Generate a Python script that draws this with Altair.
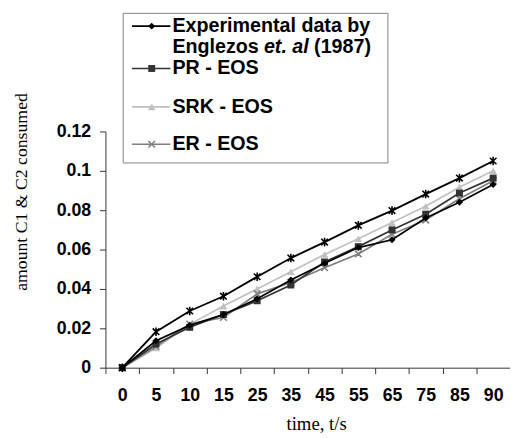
import altair as alt
import pandas as pd

# ---------------- data ----------------
times = ["0", "5", "10", "15", "25", "35", "45", "55", "65", "75", "85", "90"]
exp_vals = [0, 0.0137, 0.0215, 0.027, 0.035, 0.0445, 0.053, 0.061, 0.065, 0.076, 0.084, 0.093]
pr_vals = [0, 0.012, 0.0205, 0.027, 0.034, 0.042, 0.0537, 0.0615, 0.070, 0.078, 0.0887, 0.0963]
srk_vals = [0, 0.010, 0.022, 0.0313, 0.040, 0.0487, 0.0575, 0.0655, 0.0737, 0.082, 0.0917, 0.100]
er_vals = [0, 0.0108, 0.0222, 0.0255, 0.0375, 0.0433, 0.0508, 0.0578, 0.0678, 0.075, 0.0858, 0.095]
pt_vals = [0, 0.0183, 0.0288, 0.0363, 0.0462, 0.0557, 0.0638, 0.0723, 0.0798, 0.0882, 0.0963, 0.105]

series_names = ["Experimental", "PR - EOS", "SRK - EOS", "ER - EOS", "PT - EOS"]
series_values = [exp_vals, pr_vals, srk_vals, er_vals, pt_vals]
y_ticks = [0, 0.02, 0.04, 0.06, 0.08, 0.10, 0.12]

rows = []
for name, vals in zip(series_names, series_values):
    for t, v in zip(times, vals):
        rows.append({"time": t, "value": v, "series": name})
df = pd.DataFrame(rows)

# ---------------- styles ----------------
X_PATH = "M-1,-1L1,1M-1,1L1,-1"
AST_PATH = "M-1,-1L1,1M-1,1L1,-1M0,-1.3L0,1.3"
styles = {
    "Experimental": dict(color="#000000", shape="diamond", filled=True, size=50, sw=1.7),
    "PR - EOS": dict(color="#333333", shape="square", filled=True, size=50, sw=1.7),
    "SRK - EOS": dict(color="#c0c0c0", shape="triangle-up", filled=True, size=60, sw=1.7),
    "ER - EOS": dict(color="#808080", shape=X_PATH, filled=False, size=45, sw=1.7),
    "PT - EOS": dict(color="#000000", shape=AST_PATH, filled=False, size=45, sw=1.9),
}
draw_order = ["SRK - EOS", "ER - EOS", "PR - EOS", "Experimental", "PT - EOS"]

x_enc = alt.X(
    "time:N",
    sort=times,
    scale=alt.Scale(type="band", domain=times, paddingInner=0, paddingOuter=0),
    axis=alt.Axis(
        title="time, t/s",
        labelAngle=0,
        tickBand="extent",
        tickSize=6,
        labelPadding=13,
        titleFont="Liberation Serif",
        titleFontWeight="normal",
        titleFontSize=19,
        titleX=214,
        titleY=57,
        titleBaseline="middle",
        titleAlign="center",
    ),
)
y_enc = alt.Y(
    "value:Q",
    scale=alt.Scale(domain=[0, 0.12], nice=False, zero=True),
    axis=alt.Axis(
        values=y_ticks,
        format=".2~f",
        title="amount C1 & C2 consumed",
        tickSize=6,
        labelPadding=9,
        titleFont="Liberation Serif",
        titleFontWeight="normal",
        titleFontSize=18,
        titleAngle=270,
        titleX=-85,
        titleY=61,
        titleAlign="center",
        titleBaseline="middle",
    ),
)

layers = []
for name in draw_order:
    st = styles[name]
    base = alt.Chart(df).transform_filter(alt.datum.series == name)
    layers.append(
        base.mark_line(color=st["color"], strokeWidth=st["sw"]).encode(x=x_enc, y=y_enc)
    )
    layers.append(
        base.mark_point(
            shape=st["shape"], filled=st["filled"], size=st["size"],
            color=st["color"], strokeWidth=1.6 if not st["filled"] else 1, opacity=1,
        ).encode(x=x_enc, y=y_enc)
    )

# ---------------- legend (manual box, inside top-left) ----------------
one = pd.DataFrame({"k": [0]})
# plot origin is at page (107,130); legend coordinates relative to plot
LX0, LX1, LY0, LY1 = 18, 287, -120, 32
layers.append(
    alt.Chart(one).mark_rect(fill="white", stroke="#808080", strokeWidth=1).encode(
        x=alt.value(LX0), x2=alt.value(LX1), y=alt.value(LY0), y2=alt.value(LY1)
    )
)
legend_rows = [
    ("Experimental", -107),
    ("PR - EOS", -64),
    ("SRK - EOS", -25),
    ("ER - EOS", 13),
]
SYM_X0, SYM_X1, SYM_XC, TXT_X = 27, 66, 47, 68
for name, ly in legend_rows:
    st = styles[name]
    layers.append(
        alt.Chart(one).mark_rule(color=st["color"], strokeWidth=st["sw"]).encode(
            x=alt.value(SYM_X0), x2=alt.value(SYM_X1), y=alt.value(ly)
        )
    )
    layers.append(
        alt.Chart(one).mark_point(
            shape=st["shape"], filled=st["filled"], size=st["size"],
            color=st["color"], strokeWidth=1.6 if not st["filled"] else 1, opacity=1,
        ).encode(x=alt.value(SYM_XC), y=alt.value(ly))
    )

legend_text_props = dict(
    align="left", baseline="middle", font="Liberation Sans", fontWeight="bold",
    fontSize=20, color="#000000",
)
legend_labels = [
    ("Experimental data by", TXT_X, -107, "normal"),
    ("Englezos", TXT_X, -86, "normal"),
    ("et. al", TXT_X + 93, -86, "italic"),
    ("(1987)", TXT_X + 144, -86, "normal"),
    ("PR - EOS", TXT_X, -64, "normal"),
    ("SRK - EOS", TXT_X, -25, "normal"),
    ("ER - EOS", TXT_X, 13, "normal"),
]
for txt, tx, ty, fs in legend_labels:
    layers.append(
        alt.Chart(one).mark_text(fontStyle=fs, **legend_text_props).encode(
            x=alt.value(tx), y=alt.value(ty), text=alt.value(txt)
        )
    )

chart = (
    alt.layer(*layers)
    .properties(
        width=411,
        height=240,
        autosize=alt.AutoSizeParams(type="none"),
        padding={"left": 99, "top": 122, "right": 0, "bottom": 68},
        background="white",
    )
    .configure_view(stroke=None)
    .configure_axis(
        grid=False,
        labelFont="Liberation Sans",
        labelFontWeight="bold",
        labelFontSize=18,
        labelColor="#000000",
        titleColor="#000000",
        domainColor="#333333",
        tickColor="#333333",
        domainWidth=1,
        tickWidth=1,
    )
)

chart.save("out.html", embed_options={"renderer": "svg", "actions": False})
